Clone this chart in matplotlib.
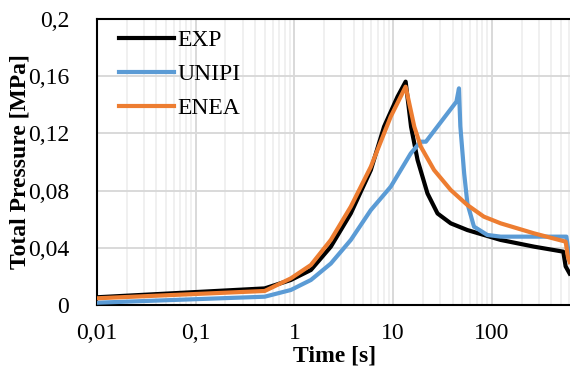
import matplotlib
matplotlib.use("Agg")
import matplotlib.pyplot as plt
from matplotlib.ticker import FixedLocator, FixedFormatter, NullFormatter

plt.rcParams['font.family'] = ['Liberation Serif', 'DejaVu Serif']

# ---- data ----
exp_t = [0.01, 0.5, 0.92, 1.47, 2.34, 3.73, 5.95, 8.1, 11.1, 13.4, 15.2, 17.7,
         22.3, 28.2, 38.4, 56.6, 123, 268, 530, 560, 615]
exp_p = [0.0054, 0.0116, 0.0175, 0.0245, 0.0408, 0.0641, 0.0944, 0.1247, 0.1457,
         0.1562, 0.1247, 0.1014, 0.078, 0.064, 0.0571, 0.0524, 0.0455, 0.0408,
         0.0373, 0.027, 0.022]

unipi_t = [0.01, 0.5, 0.92, 1.47, 2.34, 3.73, 5.95, 9.46, 15.1, 19.0, 21.5, 43.8,
           46.5, 48, 52.5, 56.6, 66, 90, 123, 268, 570, 615]
unipi_p = [0.0016, 0.0058, 0.0105, 0.0175, 0.029, 0.0455, 0.0664, 0.0827, 0.106,
           0.1142, 0.1142, 0.1422, 0.1515, 0.125, 0.092, 0.071, 0.0548, 0.049,
           0.0478, 0.0478, 0.0478, 0.0315]

enea_t = [0.01, 0.5, 0.92, 1.47, 2.34, 3.73, 5.95, 9.46, 13.4, 16.4, 19.1, 26,
          38.4, 56.6, 83, 123, 268, 560, 590, 615]
enea_p = [0.0047, 0.0098, 0.0186, 0.028, 0.0455, 0.0688, 0.0967, 0.1317, 0.1527,
          0.1247, 0.1107, 0.0944, 0.0804, 0.0699, 0.0618, 0.0571, 0.0501, 0.0443,
          0.0338, 0.030]

x_ticks = [0.01, 0.1, 1, 10, 100]
x_labels = ["0,01", "0,1", "1", "10", "100"]
y_ticks = [0, 0.04, 0.08, 0.12, 0.16, 0.2]
y_labels = ["0", "0,04", "0,08", "0,12", "0,16", "0,2"]

# ---- figure ----
fig = plt.figure(figsize=(5.7, 3.69), dpi=100)
ax = fig.add_axes([97/570, (369-305)/369, (570-97)/570, (305-19)/369])

ax.plot(exp_t, exp_p, color='#000000', lw=3, label='EXP', zorder=3,
        solid_joinstyle='round')
ax.plot(unipi_t, unipi_p, color='#5B9BD5', lw=3, label='UNIPI', zorder=3,
        solid_joinstyle='round')
ax.plot(enea_t, enea_p, color='#ED7D31', lw=3, label='ENEA', zorder=3,
        solid_joinstyle='round')

ax.set_xscale('log')
ax.set_xlim(0.01, 620)
ax.set_ylim(0, 0.2)

ax.xaxis.set_major_locator(FixedLocator(x_ticks))
ax.xaxis.set_major_formatter(FixedFormatter(x_labels))
ax.xaxis.set_minor_formatter(NullFormatter())
ax.yaxis.set_major_locator(FixedLocator(y_ticks))
ax.yaxis.set_major_formatter(FixedFormatter(y_labels))

ax.grid(True, which='major', color='#d9d9d9', lw=1.4, zorder=0)
ax.grid(True, which='minor', axis='x', color='#eeeeee', lw=1.2, zorder=0)
ax.set_axisbelow(True)

ax.tick_params(axis='both', which='both', length=0, labelsize=17)
ax.tick_params(axis='y', pad=20)
ax.tick_params(axis='x', pad=13)

for s in ['left', 'bottom', 'top']:
    ax.spines[s].set_color('black')
    ax.spines[s].set_linewidth(1.5)
ax.spines['right'].set_visible(False)

ax.set_xlabel('Time [s]', fontsize=17, fontweight='bold', va='center')
ax.set_ylabel('Total Pressure [MPa]', fontsize=17, fontweight='bold', va='center')
ax.xaxis.set_label_coords((335-97)/473, (305-356)/286)
ax.yaxis.set_label_coords((20-97)/473, 0.5)

leg = ax.legend(loc='upper left', frameon=False, fontsize=17, handlelength=2.3,
                handletextpad=0.15, labelspacing=0.52, borderaxespad=0.3,
                bbox_to_anchor=(0.012, 1.02))

fig.savefig('out.png', dpi=100)
